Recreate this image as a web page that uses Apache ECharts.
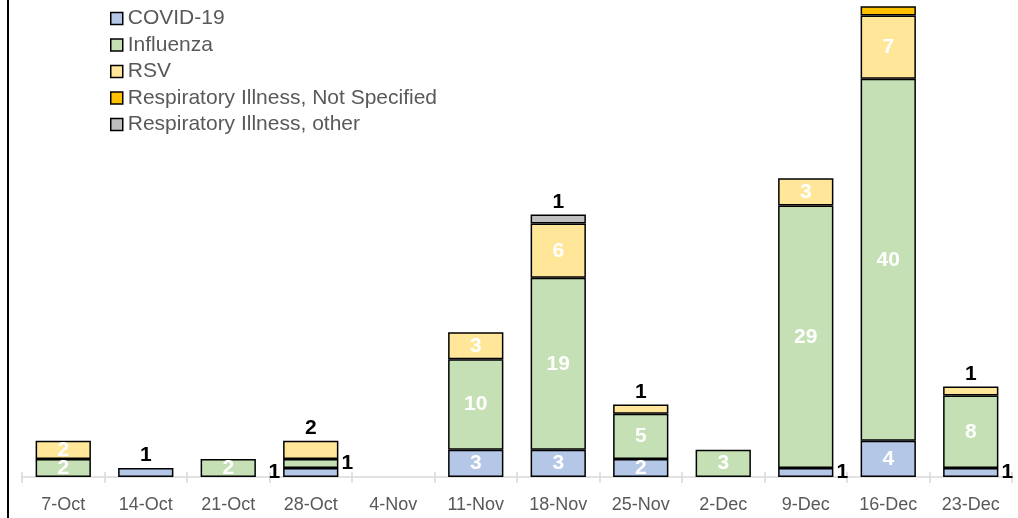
<!DOCTYPE html>
<html>
<head>
<meta charset="utf-8">
<script src="https://cdn.jsdelivr.net/npm/echarts@6/dist/echarts.min.js"></script>
<style>
html,body{margin:0;padding:0;background:#fff;}
#chart{width:1018px;height:518px;}
</style>
</head>
<body>
<div id="chart"></div>
<script>
var categories = ['7-Oct','14-Oct','21-Oct','28-Oct','4-Nov','11-Nov','18-Nov','25-Nov','2-Dec','9-Dec','16-Dec','23-Dec'];
var covid      = [null, 1, null, 1, null, 3, 3, 2, null, 1, 4, 1];
var influenza  = [2, null, 2, 1, null, 10, 19, 5, 3, 29, 40, 8];
var rsv        = [2, null, null, 2, null, 3, 6, 1, null, 3, 7, 1];
var notSpec    = [null, null, null, null, null, null, null, null, null, null, 1, null];
var other      = [null, null, null, null, null, null, 1, null, null, null, null, null];

var seriesNames = ['COVID-19','Influenza','RSV','Respiratory Illness, Not Specified','Respiratory Illness, other'];
var seriesData = [covid, influenza, rsv, notSpec, other];
var colors = ['#b4c7e7','#c5e0b4','#ffe699','#ffc000','#bfbfbf'];

// label placement for small segments (style only)
var outside = {
  0: {1:'top', 3:'left', 9:'right', 11:'right'},
  1: {3:'right'},
  2: {3:'top', 7:'top', 11:'top'},
  3: {10:'top'},
  4: {6:'top'}
};

var series = seriesData.map(function(arr, si){
  return {
    name: seriesNames[si],
    type: 'bar',
    stack: 'total',
    barWidth: '67%',
    itemStyle: {color: colors[si], borderColor: '#000', borderWidth: 1.5},
    label: {
      show: true, position: 'inside', color: '#fff', fontWeight: 'bold',
      fontSize: 21, fontFamily: 'Liberation Sans'
    },
    data: arr.map(function(v, ci){
      var pos = outside[si] && outside[si][ci];
      if (v == null) return v;
      if (pos) {
        return {value: v, label: {position: pos, color: '#000', distance: pos==='top'?2:3}};
      }
      return v;
    })
  };
});

var chart = echarts.init(document.getElementById('chart'), null, {renderer:'canvas'});
chart.setOption({
  animation: false,
  backgroundColor: '#fff',
  color: colors,
  grid: {left: 22, right: 6, top: 0, bottom: 41, containLabel: false},
  legend: {
    orient: 'vertical', left: 105, top: 3,
    icon: 'rect', itemWidth: 12, itemHeight: 12, itemGap: 5.5,
    itemStyle: {borderColor: '#000', borderWidth: 1.5},
    textStyle: {fontSize: 21, color: '#595959', fontFamily: 'Liberation Sans', lineHeight: 21},
    data: seriesNames
  },
  xAxis: [{
    type: 'category', data: categories,
    axisLine: {lineStyle: {color: '#d9d9d9', width: 1.5}},
    axisTick: {show: true, length: 6, lineStyle: {color: '#d9d9d9', width: 1.5}},
    axisLabel: {color: '#595959', fontSize: 18, fontFamily: 'Liberation Sans', margin: 19}
  },{
    type: 'category', data: categories, position: 'bottom',
    axisLine: {show: false},
    axisTick: {show: true, inside: true, length: 5, lineStyle: {color: '#d9d9d9', width: 1.5}},
    axisLabel: {show: false}
  }],
  yAxis: {type: 'value', min: 0, max: 52.7, show: false},
  graphic: [{
    type: 'line', shape: {x1: 8, y1: 0, x2: 8, y2: 518},
    style: {stroke: '#000', lineWidth: 2}
  }],
  series: series
});
</script>
</body>
</html>
